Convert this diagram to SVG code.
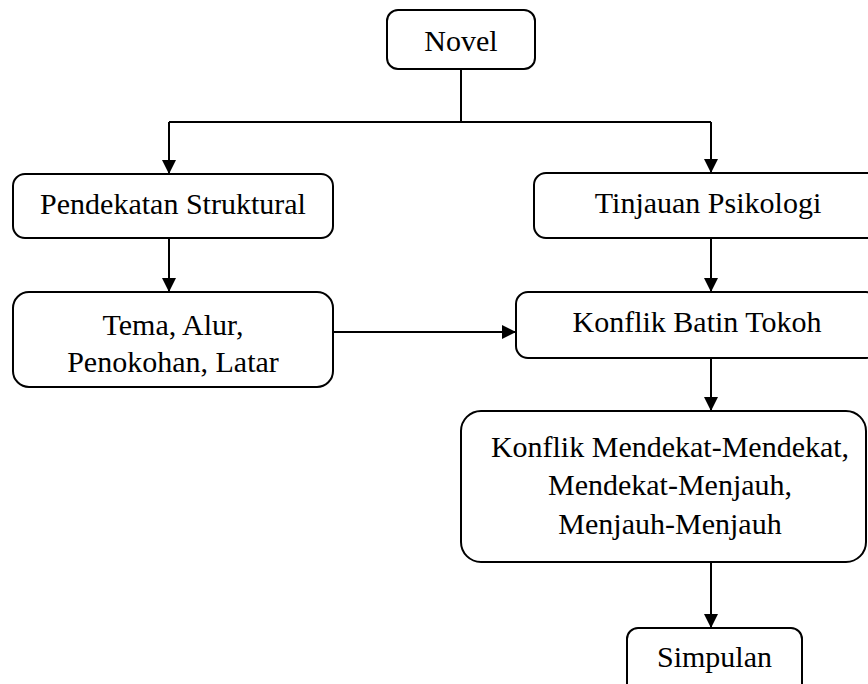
<svg xmlns="http://www.w3.org/2000/svg" width="868" height="684" viewBox="0 0 868 684">
<style>
.box{fill:#fff;stroke:#000;stroke-width:2}
.t{font-size:30px;fill:#000;text-anchor:middle}
.c{fill:none;stroke:#000;stroke-width:2}
</style>
<defs>
<marker id="ah" markerUnits="userSpaceOnUse" markerWidth="14" markerHeight="14" viewBox="0 0 14 14" refX="14" refY="7" orient="auto">
<path d="M0,0 L14,7 L0,14 Z" fill="#000"/>
</marker>
</defs>
<rect width="868" height="684" fill="#fff"/>
<g id="connectors">
<path class="c" d="M461,69 V122"/>
<path class="c" d="M169,122 H711"/>
<path class="c" d="M169,122 V174" marker-end="url(#ah)"/>
<path class="c" d="M711,122 V173" marker-end="url(#ah)"/>
<path class="c" d="M169,238 V292" marker-end="url(#ah)"/>
<path class="c" d="M711,238 V292" marker-end="url(#ah)"/>
<path class="c" d="M333,332 H516" marker-end="url(#ah)"/>
<path class="c" d="M711,358 V411" marker-end="url(#ah)"/>
<path class="c" d="M711,562 V628" marker-end="url(#ah)"/>
</g>
<g font-family="Liberation Serif, Times New Roman, serif">
<g id="novel">
<rect class="box" x="387" y="10" width="148" height="59" rx="11"/>
<text class="t" x="461" y="51">Novel</text>
</g>
<g id="pendekatan">
<rect class="box" x="13" y="174" width="320" height="64" rx="12"/>
<text class="t" x="173" y="214">Pendekatan Struktural</text>
</g>
<g id="tinjauan">
<rect class="box" x="534" y="173" width="354" height="65" rx="12"/>
<text class="t" x="708" y="213">Tinjauan Psikologi</text>
</g>
<g id="tema">
<rect class="box" x="13" y="292" width="320" height="95" rx="16"/>
<text class="t" x="173" y="335">Tema, Alur,</text>
<text class="t" x="173" y="372">Penokohan, Latar</text>
</g>
<g id="konflik-batin">
<rect class="box" x="516" y="292" width="362" height="66" rx="12"/>
<text class="t" x="697" y="332">Konflik Batin Tokoh</text>
</g>
<g id="konflik-jenis">
<rect class="box" x="461" y="411" width="405" height="151" rx="20"/>
<text class="t" x="670" y="457">Konflik Mendekat-Mendekat,</text>
<text class="t" x="670" y="495">Mendekat-Menjauh,</text>
<text class="t" x="670" y="534">Menjauh-Menjauh</text>
</g>
<g id="simpulan">
<rect class="box" x="627" y="628" width="175" height="70" rx="11"/>
<text class="t" x="714.5" y="667">Simpulan</text>
</g>
</g>
</svg>
